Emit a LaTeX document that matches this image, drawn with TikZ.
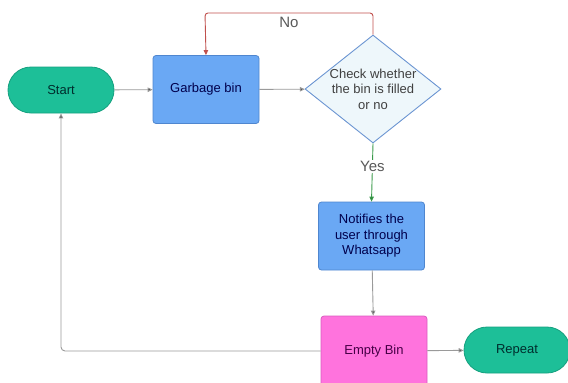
\documentclass[tikz,border=0pt]{standalone}
\usepackage{fontspec}
\setmainfont{Liberation Sans}
\usetikzlibrary{arrows.meta,shapes.geometric}
\definecolor{teal1}{HTML}{1DBF98}
\definecolor{teal2}{HTML}{15A07F}
\definecolor{blue1}{HTML}{6AA8F4}
\definecolor{blue2}{HTML}{4F86CF}
\definecolor{dia1}{HTML}{EEF7FB}
\definecolor{dia2}{HTML}{6B95D2}
\definecolor{pink1}{HTML}{FF73DD}
\definecolor{pink2}{HTML}{D95CBF}
\definecolor{linegray}{HTML}{9A9A9A}
\definecolor{tipgray}{HTML}{444444}
\definecolor{noline}{HTML}{C0504D}
\definecolor{yesline}{HTML}{3A9A4A}
\begin{document}
\begin{tikzpicture}[x=1pt,y=-1pt,
  txt/.style={font=\fontsize{13}{15.5}\selectfont, align=center},
  term/.style={txt, draw=teal2, fill=teal1, rounded corners=23pt, line width=0.8pt, text=teal!35!black, minimum width=106pt, minimum height=46pt, inner sep=0pt},
  procbox/.style={txt, draw=blue2, fill=blue1, rounded corners=3pt, line width=0.8pt, text=blue!30!black, minimum width=106pt, minimum height=68pt, inner sep=0pt},
  pinkbox/.style={txt, draw=pink2, fill=pink1, rounded corners=3pt, line width=0.8pt, text=violet!55!black, minimum width=106pt, minimum height=70pt, inner sep=0pt},
  conn/.style={draw=linegray, line width=0.9pt, -{Triangle[length=5pt,width=4.5pt,fill=tipgray]}},
  lbl/.style={font=\fontsize{15}{17}\selectfont, text=black!65}
]
\useasboundingbox (0,0) rectangle (568,383);
\node[term] (start) at (61,90) {Start};
\node[procbox] (garbage) at (206,89.5) {Garbage bin};
\node[diamond, draw=dia2, fill=dia1, line width=0.9pt, minimum width=136pt, minimum height=108pt, inner sep=0pt] (check) at (373,89) {};
\node[txt, text=black!75] (checktxt) at (check.center) {Check whether\\the bin is filled\\or no};
\node[procbox] (notify) at (371.5,236) {Notifies the\\user through\\Whatsapp};
\node[pinkbox] (empty) at (374,351) {Empty Bin};
\node[term] (repeat) at (517,350) {Repeat};
\coordinate (nocorner) at (205,13);
\node[lbl] (nolbl) at (289,22) {No};

\draw[conn] (start) -- (garbage);
\draw[conn] (garbage) -- (check);
\draw[conn, draw=noline, rounded corners=3pt, -{Triangle[length=5pt,width=4.5pt,fill=noline]}] (check.north) |- (nocorner) -- (garbage.north);
\draw[conn, draw=yesline, -{Triangle[length=5pt,width=4.5pt,fill=yesline!80!black]}] (check.south) -- node[lbl, fill=white, inner sep=1pt, pos=0.4] (yeslbl) {Yes} (notify.north);
\draw[conn] (notify) -- (empty);
\draw[conn] (empty) -- (repeat);
\draw[conn, rounded corners=4pt] (empty.west) -| (start.south);
\end{tikzpicture}
\end{document}
